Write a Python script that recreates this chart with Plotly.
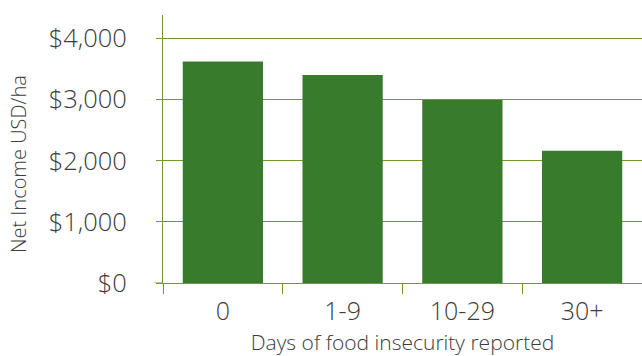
import plotly.graph_objects as go

categories = ["0", "1-9", "10-29", "30+"]
net_income = [3620, 3400, 2990, 2160]
y_tick_values = [0, 1000, 2000, 3000, 4000]
y_tick_labels = ["$0", "$1,000", "$2,000", "$3,000", "$4,000"]
y_title = "Net Income USD/ha"
x_title = "Days of food insecurity reported"

olive = "#6f9a2c"
bar_color = "#387b2c"
text_color = "#3c3c3c"
font_family = "Open Sans, Segoe UI, sans-serif"

fig = go.Figure(go.Bar(x=categories, y=net_income, marker_color=bar_color, marker_line_width=0,
                       hoverinfo="skip"))

fig.update_layout(
    width=642, height=356,
    margin=dict(l=163, r=0, t=15, b=73),
    plot_bgcolor="white", paper_bgcolor="white",
    bargap=0.33,
    showlegend=False,
    font=dict(family=font_family, color=text_color, weight=300),
)
fig.update_xaxes(
    type="category",
    automargin=False,
    tickson="boundaries",
    ticks="outside", ticklen=10, tickcolor=olive, tickwidth=1,
    ticklabelstandoff=6,
    showline=True, linecolor=olive, linewidth=1,
    showgrid=False,
    tickfont=dict(size=25, color=text_color, family=font_family, weight=300),
    title=dict(text=x_title, standoff=11,
               font=dict(size=21, color=text_color, family=font_family, weight=300)),
)
fig.update_yaxes(
    range=[0, 4380],
    automargin=False,
    tickvals=y_tick_values,
    ticktext=y_tick_labels,
    ticks="outside", ticklen=6, tickcolor=olive, tickwidth=1,
    ticklabelstandoff=24,
    showline=True, linecolor=olive, linewidth=1,
    showgrid=True, gridcolor=olive, gridwidth=1,
    zeroline=False,
    tickfont=dict(size=25.5, color=text_color, family=font_family, weight=300),
)
fig.add_annotation(text=y_title, textangle=-90, xref="paper", yref="paper",
                   x=0, y=0.444, xanchor="center", yanchor="middle", xshift=-145,
                   showarrow=False,
                   font=dict(size=20, color=text_color, family=font_family, weight=300))
# small extension of the baseline to the left of the axis
fig.add_shape(type="line", xref="paper", yref="y", x0=-0.019, x1=0, y0=0, y1=0,
              line=dict(color=olive, width=1))

fig.write_html("out.html", post_script="document.body.style.margin='0';",
               config={"displayModeBar": False})
